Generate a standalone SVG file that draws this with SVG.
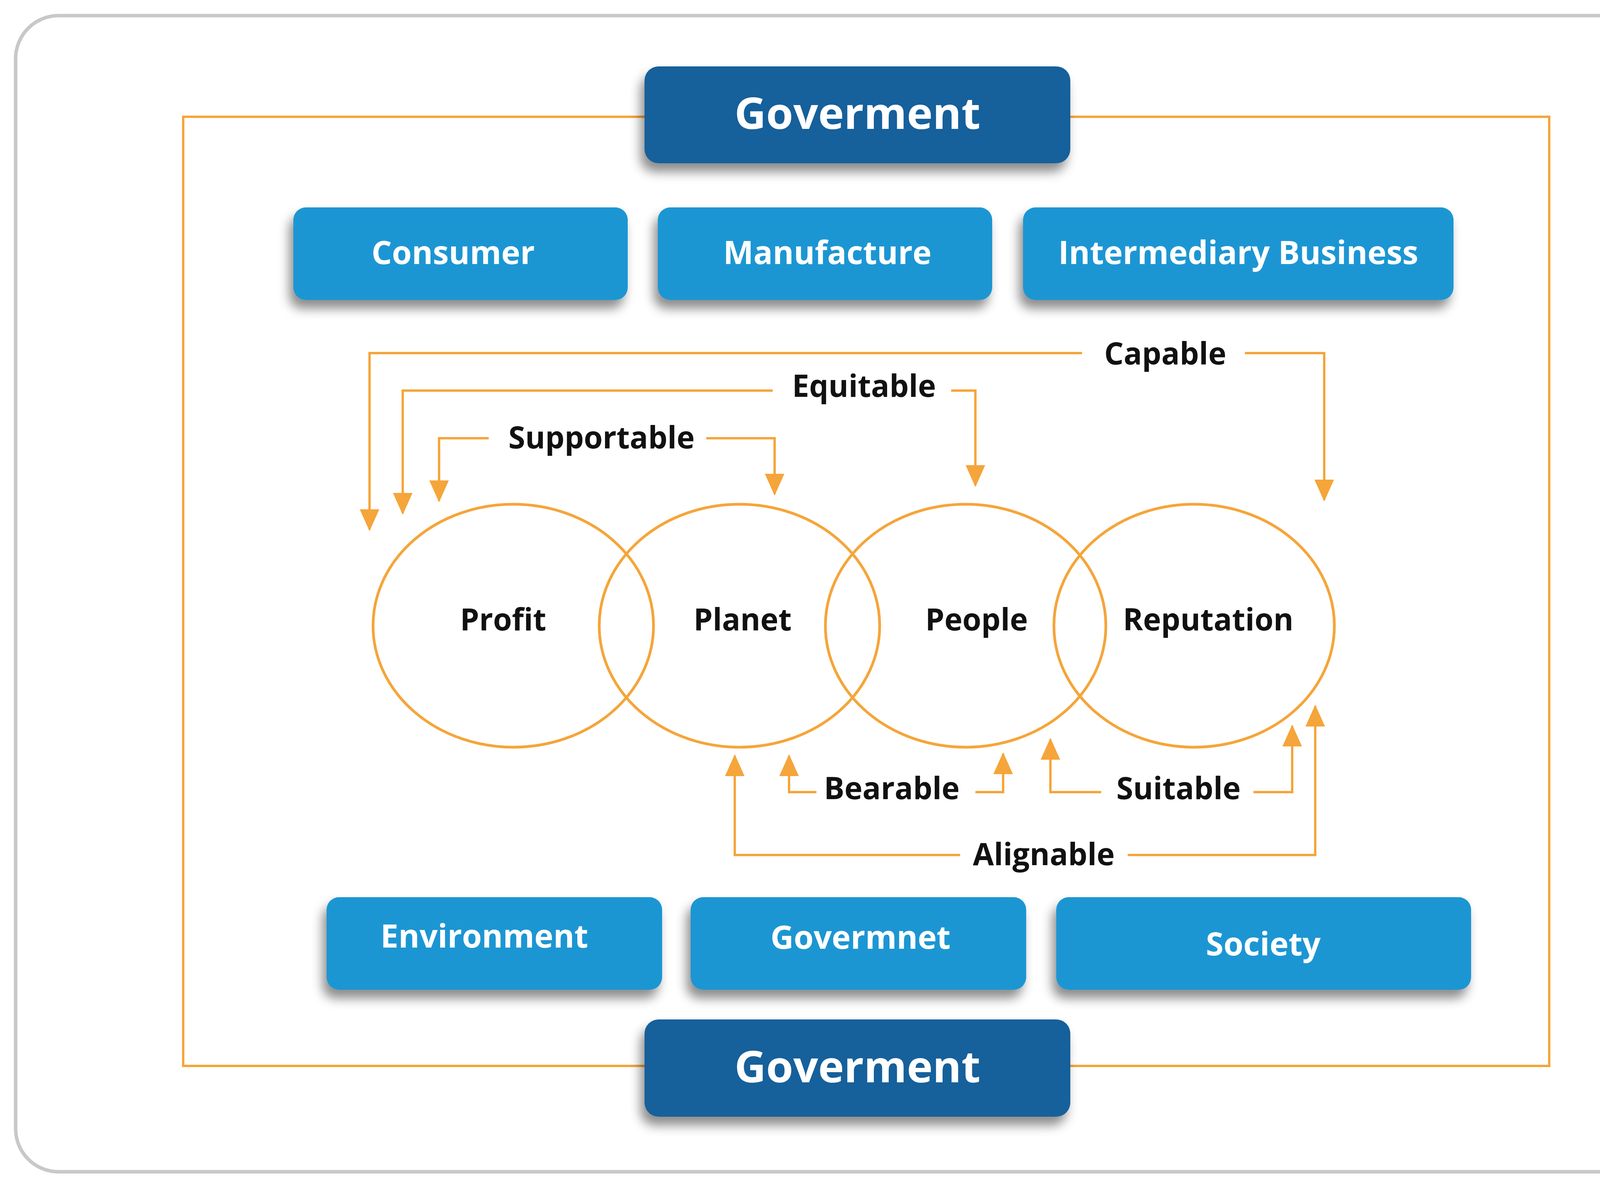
<svg xmlns="http://www.w3.org/2000/svg" width="4430" height="3039" viewBox="0 0 4430 3039">
<defs>
<style>
.frame{fill:#fff;stroke:#c8c8c8;stroke-width:9}
.big{fill:none;stroke:#f5a53a;stroke-width:6}
.dark{fill:#16619b}
.blue{fill:#1b96d3}
.bt{font-family:"Open Sans","DejaVu Sans",sans-serif;font-weight:700;fill:#fff;text-anchor:middle}
.circ{fill:none;stroke:#f5a53a;stroke-width:7}
.ct{font-family:"Open Sans","DejaVu Sans",sans-serif;font-weight:700;fill:#111;text-anchor:middle;font-size:78px}
.con{fill:none;stroke:#f5a53a;stroke-width:6}
</style>
<filter id="sh" x="-10%" y="-20%" width="120%" height="150%">
<feDropShadow dx="-10" dy="22" stdDeviation="14" flood-color="#000" flood-opacity="0.45"/>
</filter>
<marker id="ad" markerUnits="userSpaceOnUse" markerWidth="56" markerHeight="50" refX="52" refY="25" orient="auto" viewBox="0 0 56 50">
<path d="M0,0 L56,25 L0,50 Z" fill="#f5a53a"/>
</marker>
</defs>
<rect class="frame" x="40" y="40" width="4344" height="2960" rx="110"/>
<rect class="big" x="469" y="299" width="3497" height="2430"/>

<g id="connectors">
<path class="con" marker-end="url(#ad)" d="M2770,904 H946 V1356"/>
<path class="con" marker-end="url(#ad)" d="M3187,904 H3390 V1280"/>
<path class="con" marker-end="url(#ad)" d="M1978,1000 H1031 V1314"/>
<path class="con" marker-end="url(#ad)" d="M2435,1000 H2497 V1243"/>
<path class="con" marker-end="url(#ad)" d="M1251,1122 H1124 V1282"/>
<path class="con" marker-end="url(#ad)" d="M1808,1122 H1983 V1265"/>
<path class="con" marker-end="url(#ad)" d="M2090,2028 H2020 V1935"/>
<path class="con" marker-end="url(#ad)" d="M2497,2028 H2568 V1930"/>
<path class="con" marker-end="url(#ad)" d="M2819,2028 H2689 V1893"/>
<path class="con" marker-end="url(#ad)" d="M3209,2028 H3308 V1859"/>
<path class="con" marker-end="url(#ad)" d="M2458,2189 H1881 V1935"/>
<path class="con" marker-end="url(#ad)" d="M2887,2189 H3367 V1808"/>
<g class="ct">
<text x="2983" y="933">Capable</text>
<text x="2212" y="1016">Equitable</text>
<text x="1540" y="1148">Supportable</text>
<text x="2283" y="2046">Bearable</text>
<text x="3017" y="2046">Suitable</text>
<text x="2672" y="2215">Alignable</text>
</g>
</g>

<g id="gov-top"><rect class="dark" filter="url(#sh)" x="1650" y="170" width="1090" height="248" rx="36"/><text class="bt" x="2195" y="330" font-size="112">Goverment</text></g>
<g id="gov-bottom"><rect class="dark" filter="url(#sh)" x="1650" y="2610" width="1090" height="249" rx="36"/><text class="bt" x="2195" y="2771" font-size="112">Goverment</text></g>

<g id="consumer"><rect class="blue" filter="url(#sh)" x="751" y="531" width="856" height="237" rx="32"/><text class="bt" x="1160" y="676" font-size="82">Consumer</text></g>
<g id="manufacture"><rect class="blue" filter="url(#sh)" x="1684" y="531" width="856" height="237" rx="32"/><text class="bt" x="2118" y="676" font-size="82">Manufacture</text></g>
<g id="intermediary"><rect class="blue" filter="url(#sh)" x="2619" y="531" width="1102" height="237" rx="32"/><text class="bt" x="3170" y="676" font-size="82">Intermediary Business</text></g>

<g id="environment"><rect class="blue" filter="url(#sh)" x="836" y="2297" width="859" height="237" rx="32"/><text class="bt" x="1240" y="2426" font-size="82">Environment</text></g>
<g id="govermnet"><rect class="blue" filter="url(#sh)" x="1768" y="2297" width="859" height="237" rx="32"/><text class="bt" x="2203" y="2429" font-size="82">Govermnet</text></g>
<g id="society"><rect class="blue" filter="url(#sh)" x="2704" y="2297" width="1062" height="237" rx="32"/><text class="bt" x="3234" y="2446" font-size="82">Society</text></g>

<g id="profit"><ellipse class="circ" cx="1314" cy="1602" rx="359" ry="311"/><text class="ct" x="1288" y="1614">Profit</text></g>
<g id="planet"><ellipse class="circ" cx="1893" cy="1602" rx="359" ry="311"/><text class="ct" x="1901" y="1614">Planet</text></g>
<g id="people"><ellipse class="circ" cx="2472" cy="1602" rx="359" ry="311"/><text class="ct" x="2500" y="1614">People</text></g>
<g id="reputation"><ellipse class="circ" cx="3057" cy="1602" rx="359" ry="311"/><text class="ct" x="3093" y="1614">Reputation</text></g>
</svg>
